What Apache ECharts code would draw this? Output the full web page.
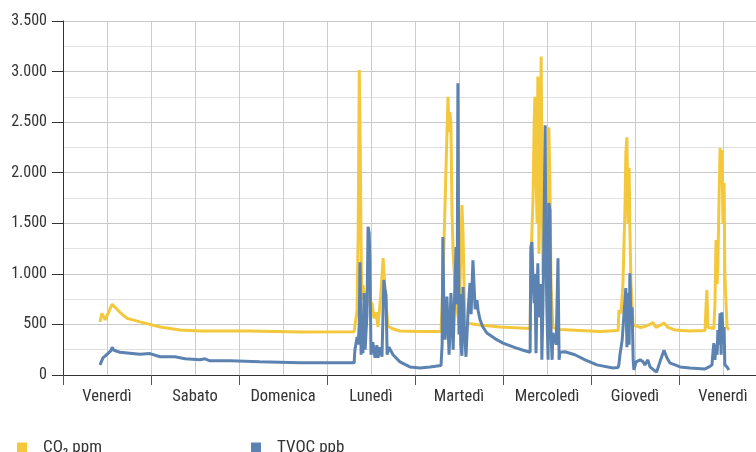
<!DOCTYPE html>
<html>
<head>
<meta charset="utf-8">
<script src="https://cdn.jsdelivr.net/npm/echarts@6/dist/echarts.min.js"></script>
<style>
  html, body { margin: 0; padding: 0; background: #fff; }
  #chart { width: 756px; height: 452px; }
</style>
</head>
<body>
<div id="chart"></div>
<script>
// giorni (etichette asse x)
var days = ['Venerdì', 'Sabato', 'Domenica', 'Lunedì', 'Martedì', 'Mercoledì', 'Giovedì', 'Venerdì'];

// CO2 ppm: ore dall'inizio di venerdì / valori
var co2Hours = [10.1, 10.6, 11.5, 13.4, 15.5, 17.5, 21.0, 26.5, 31.9, 37.4, 51.0, 64.6, 79.4,
  79.6, 80.2, 80.5, 80.8, 81.0, 81.3, 81.5, 81.8, 82.1, 82.6, 83.2, 83.7, 84.3, 84.8, 85.4, 85.9,
  86.7, 87.3, 87.8, 88.6, 89.7, 91.9, 97.4, 103.1,
  103.4, 103.9, 104.5, 105.0, 105.3, 105.5, 105.8, 106.1, 106.4, 106.9, 107.5, 108.0, 108.5,
  108.8, 109.1, 109.6, 113.7, 119.2, 127.4,
  127.6, 128.2, 128.5, 128.7, 129.0, 129.3, 129.5, 129.8, 130.1, 130.4, 130.6, 130.9, 131.5,
  131.7, 132.3, 132.5, 132.8, 133.1, 133.6, 135.5, 146.5, 151.4,
  151.6, 152.2, 152.7, 153.3, 153.5, 153.8, 154.1, 154.4, 154.6, 154.9, 155.5, 157.4, 158.7,
  160.1, 160.9, 161.7, 162.8, 163.9, 165.0, 166.9, 171.0, 175.1,
  175.4, 175.6, 175.9, 177.5, 177.8, 178.1, 178.4, 178.6, 178.9, 179.2, 179.5, 179.7, 180.0,
  180.3, 180.5, 181.1, 181.6];
var co2Values = [525, 610, 545, 700, 620, 560, 525, 475, 445, 435, 435, 425, 428,
  430, 640, 1400, 3015, 2500, 1285, 740, 890, 830, 620, 760, 745, 700, 560, 620, 475,
  800, 1155, 850, 485, 460, 435, 430, 430,
  700, 1300, 2100, 2750, 2400, 2600, 2490, 1600, 1200, 900, 650, 500, 1200,
  1680, 1400, 515, 495, 475, 460,
  1100, 1760, 2500, 2750, 2000, 1500, 2950, 1200, 1800, 3150, 2200, 1000, 1100,
  1900, 800, 2450, 1900, 900, 470, 450, 430, 440,
  640, 610, 900, 1700, 2200, 2350, 1500, 2050, 1460, 900, 495, 470, 480,
  500, 520, 470, 490, 515, 470, 445, 435, 440,
  700, 840, 470, 460, 700, 1335, 900, 1090, 1700, 2245, 1900, 2225, 1500,
  1900, 1000, 475, 445];

// TVOC ppb: ore / valori
var tvocHours = [10.1, 10.9, 12.3, 13.1, 13.4, 13.9, 15.5, 21.0, 23.7, 26.5, 30.5, 33.3, 37.4,
  38.7, 40.1, 45.5, 53.7, 64.6, 70.1, 79.4,
  79.6, 80.2, 80.5, 80.8, 81.0, 81.3, 81.5, 81.8, 82.1, 82.4, 82.9, 83.2, 83.5, 83.7, 84.0,
  84.5, 85.1, 85.6, 85.9, 86.5, 87.0, 87.5, 87.8, 88.1, 88.4, 88.9, 90.0, 91.9, 94.6, 97.4,
  100.1, 103.1,
  103.4, 103.6, 103.9, 104.2, 104.7, 105.3, 105.8, 106.4, 106.9, 107.2, 107.5, 107.7, 108.0,
  108.3, 108.5, 108.8, 109.1, 109.4, 109.9, 110.5, 111.0, 111.3, 111.8, 112.4, 112.9, 113.2,
  113.7, 114.5, 115.6, 117.8, 120.0, 123.3, 125.5, 127.4,
  127.6, 127.9, 128.2, 128.5, 128.7, 129.0, 129.3, 129.5, 129.8, 130.1, 130.4, 130.6, 130.9,
  131.2, 131.5, 131.7, 132.0, 132.3, 132.5, 132.8, 133.1, 133.4, 133.6, 134.5, 135.0, 135.3,
  135.5, 136.9, 139.6, 142.4, 145.6, 150.0, 151.4,
  151.6, 151.9, 152.5, 153.0, 153.5, 153.8, 154.1, 154.4, 154.6, 154.9, 155.2, 155.5, 155.7,
  156.3, 157.4, 158.2, 158.7, 159.5, 160.1, 161.1, 161.9, 162.8, 163.9, 164.7, 165.5, 168.3,
  171.0, 175.1, 176.2, 177.0,
  177.2, 177.5, 177.8, 178.1, 178.4, 178.6, 178.9, 179.2, 179.5, 179.7, 180.0, 180.3, 180.5,
  181.1, 181.6];
var tvocValues = [100, 170, 215, 240, 275, 245, 225, 205, 212, 180, 180, 160, 150,
  160, 140, 140, 130, 120, 120, 120,
  245, 375, 300, 500, 1115, 200, 515, 215, 810, 250, 600, 1465, 1405, 1135, 200,
  325, 170, 295, 170, 275, 180, 940, 850, 790, 200, 275, 200, 130, 80, 70,
  80, 95,
  300, 1365, 600, 350, 775, 200, 810, 250, 900, 1265, 700, 2885, 400,
  800, 300, 190, 870, 500, 180, 650, 910, 600, 1135, 650, 740, 640,
  550, 475, 415, 360, 315, 270, 245, 225,
  1265, 1315, 900, 710, 1000, 215, 800, 1105, 600, 575, 900, 150, 700,
  1500, 2470, 1200, 600, 150, 1700, 1630, 400, 150, 415, 300, 1155, 150,
  225, 230, 200, 150, 100, 70, 75,
  100, 200, 345, 610, 860, 275, 810, 300, 1005, 500, 670, 150, 50,
  130, 150, 130, 100, 150, 80, 50, 30, 130, 245, 170, 120, 80,
  70, 60, 80, 100,
  200, 315, 150, 300, 200, 445, 300, 610, 200, 620, 400, 475, 100,
  80, 50];

var yTicks = [0, 500, 1000, 1500, 2000, 2500, 3000, 3500];

function pairs(xs, ys) {
  return xs.map(function (x, i) { return [x, ys[i]]; });
}

// separatore delle migliaia con il punto
function fmt(v) {
  return String(v).replace(/\B(?=(\d{3})+(?!\d))/g, '.');
}

var fontFam = '"Roboto Condensed", "Liberation Sans Narrow", sans-serif';

var chart = echarts.init(document.getElementById('chart'), null, { renderer: 'canvas' });

chart.setOption({
  animation: false,
  backgroundColor: '#ffffff',
  textStyle: { fontFamily: fontFam },
  // l'ultimo giorno esce dal bordo destro dell'immagine
  grid: { left: 63, top: 21, width: 704, height: 354, containLabel: false, outerBoundsMode: 'none' },
  legend: [
    {
      data: ['CO₂ ppm'], left: 12, top: 434, icon: 'rect', itemWidth: 10, itemHeight: 10,
      textStyle: { fontFamily: fontFam, fontSize: 17, color: '#333', padding: [0, 0, 0, 11] }
    },
    {
      data: ['TVOC ppb'], left: 246, top: 434, icon: 'rect', itemWidth: 10, itemHeight: 10,
      textStyle: { fontFamily: fontFam, fontSize: 17, color: '#333', padding: [0, 0, 0, 11] }
    }
  ],
  xAxis: [
    {
      type: 'category',
      data: days,
      boundaryGap: true,
      axisLine: { show: true, lineStyle: { color: '#333', width: 1 } },
      axisTick: { show: true, length: 10, lineStyle: { color: '#555' } },
      axisLabel: { fontFamily: fontFam, fontSize: 16.5, color: '#333', margin: 13, interval: 0 },
      splitLine: { show: false }
    },
    {
      type: 'value',
      min: 0,
      max: 192,
      interval: 12,
      position: 'bottom',
      axisLine: { show: false },
      axisTick: { show: false },
      axisLabel: { show: false },
      splitLine: { show: true, lineStyle: { color: '#cccccc', width: 1 } }
    }
  ],
  yAxis: {
    type: 'value',
    min: yTicks[0],
    max: yTicks[yTicks.length - 1],
    interval: 500,
    axisLine: { show: true, lineStyle: { color: '#333', width: 1 } },
    axisTick: { show: true, length: 11, lineStyle: { color: '#333' } },
    axisLabel: { fontFamily: fontFam, fontSize: 16, color: '#333', margin: 16, formatter: fmt },
    splitLine: { show: true, lineStyle: { color: '#c8c8c8', width: 1 } },
    minorTick: { show: false, splitNumber: 2 },
    minorSplitLine: { show: true, lineStyle: { color: '#e0e0e0', width: 1 } }
  },
  series: [
    {
      name: 'CO₂ ppm',
      type: 'line',
      xAxisIndex: 1,
      data: pairs(co2Hours, co2Values),
      showSymbol: false,
      color: '#f4c83c',
      lineStyle: { color: '#f4c83c', width: 3 }
    },
    {
      name: 'TVOC ppb',
      type: 'line',
      xAxisIndex: 1,
      data: pairs(tvocHours, tvocValues),
      showSymbol: false,
      color: '#5b82b0',
      lineStyle: { color: '#5b82b0', width: 3 }
    }
  ]
});
</script>
</body>
</html>
